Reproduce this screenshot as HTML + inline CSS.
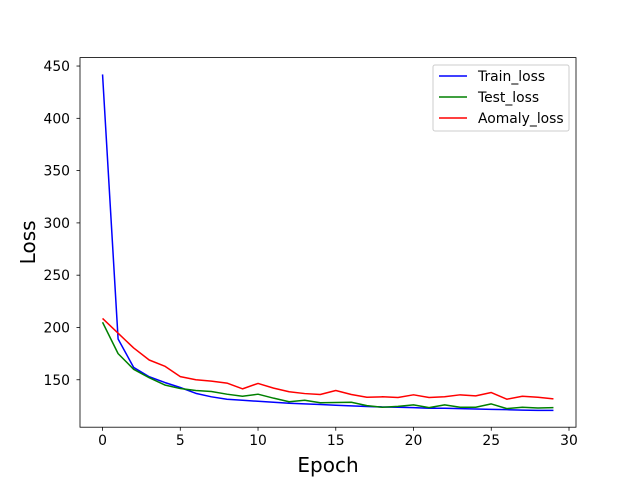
<!DOCTYPE html>
<html><head><meta charset="utf-8"><style>body{margin:0;background:#fff}svg{display:block;font-family:"DejaVu Sans","Liberation Sans",sans-serif}</style></head>
<body>
<svg id="chart" width="640" height="480"></svg>
<script>
const epochs = Array.from({length:30},(_,i)=>i);
const trainLoss = [442,189,161.8,152.9,147.4,142.6,137,133.7,131.4,130.4,129.4,128.5,127.5,126.9,126.3,125.6,125,124.4,124,123.7,123.4,122.7,122.7,122.4,122,121.7,121.4,121,120.7,120.7];
const testLoss = [205,175,160,152,145,141.6,139.7,138.8,136.2,134.2,136.2,132.4,129,130.4,128,128.2,128.5,125.3,123.7,124.6,126,123.4,126,123.7,123.7,126.9,122.4,123.7,123,123.4];
const anomalyLoss = [208.6,194.5,180.4,168.9,163,153,150,148.7,146.8,141.3,146.5,142,138.5,136.8,135.9,139.7,135.9,133.3,133.7,133,135.6,133,133.7,135.6,134.6,137.8,131.4,134.2,133.3,131.7];
const xTicks = [0,5,10,15,20,25,30];
const yTicks = [150,200,250,300,350,400,450];
const seriesNames = ["Train_loss","Test_loss","Aomaly_loss"];

const NS="http://www.w3.org/2000/svg";
const svg=document.getElementById('chart');
function mk(tag,attrs,parent){const e=document.createElementNS(NS,tag);for(const k in attrs)e.setAttribute(k,attrs[k]);(parent||svg).appendChild(e);return e;}
const L=80,R=576,T=57.6,B=427.2;
const all=trainLoss.concat(testLoss,anomalyLoss);
const dmin=Math.min(...all),dmax=Math.max(...all),pad=(dmax-dmin)*0.05;
const ymin=dmin-pad,ymax=dmax+pad;
const xmin=-1.45,xmax=30.45;
const X=v=>L+(v-xmin)/(xmax-xmin)*(R-L);
const Y=v=>B-(v-ymin)/(ymax-ymin)*(B-T);

const colors=["#0000ff","#008000","#ff0000"];
[trainLoss,testLoss,anomalyLoss].forEach((s,i)=>{
  const p=mk('polyline',{points:s.map((v,j)=>X(epochs[j])+','+Y(v)).join(' '),fill:'none',stroke:colors[i],'stroke-width':1.5,'stroke-linejoin':'round'});
  
  
});
const frame=mk('rect',{x:L,y:T,width:R-L,height:B-T,fill:'none',stroke:'#000','stroke-width':0.8});


xTicks.forEach(t=>{
  mk('line',{x1:X(t),x2:X(t),y1:B,y2:B+3.5,stroke:'#000','stroke-width':0.8});
  const tx=mk('text',{x:X(t),y:B+18,'font-size':13.9,'text-anchor':'middle'});tx.textContent=t;
  
  
});
yTicks.forEach(t=>{
  mk('line',{x1:L-3.5,x2:L,y1:Y(t),y2:Y(t),stroke:'#000','stroke-width':0.8});
  const tx=mk('text',{x:L-10,y:Y(t)+5,'font-size':13.9,'text-anchor':'end'});tx.textContent=t;
  
  
});
const xl=mk('text',{x:(L+R)/2,y:472,'font-size':20,'text-anchor':'middle'});xl.textContent='Epoch';


const yl=mk('text',{x:0,y:0,'font-size':20,'text-anchor':'middle',transform:`translate(35,${(T+B)/2}) rotate(-90)`});yl.textContent='Loss';


const lg=mk('g',{});


mk('rect',{x:433,y:65,width:136,height:66,rx:2,fill:'#fff',stroke:'#ccc','stroke-width':1},lg);
seriesNames.forEach((n,i)=>{
  const y=76+i*21;
  mk('line',{x1:439,x2:467,y1:y,y2:y,stroke:colors[i],'stroke-width':1.5},lg);
  const t=mk('text',{x:478,y:y+5,'font-size':13.9},lg);t.textContent=n;
  
  
});
</script>
</body></html>
